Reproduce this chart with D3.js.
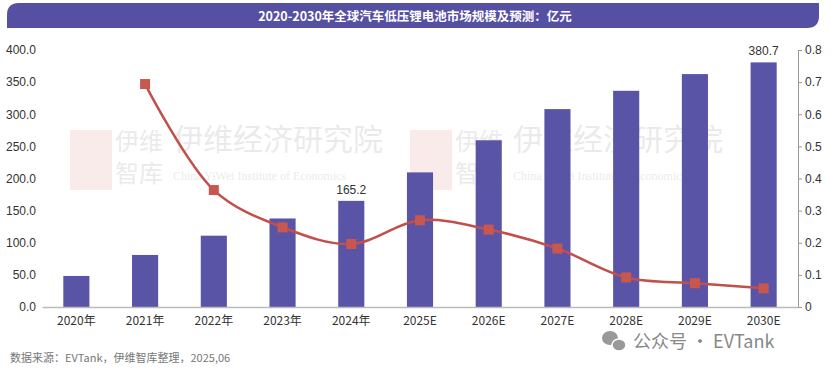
<!DOCTYPE html>
<html>
<head>
<meta charset="utf-8">
<script src="https://cdn.jsdelivr.net/npm/d3@7"></script>
<style>
  body { margin: 0; background: #fff; }
  svg { display: block; font-family: "Liberation Sans", Arial, sans-serif; }
</style>
</head>
<body>
<svg id="chart" width="830" height="373"></svg>
<script>
// chart data
const years = ["2020年", "2021年", "2022年", "2023年", "2024年", "2025E", "2026E", "2027E", "2028E", "2029E", "2030E"];
const market = [48.3, 81.0, 111.0, 137.8, 165.2, 209.5, 259.5, 308.0, 336.5, 362.5, 380.7];
const growth = [null, 0.694, 0.364, 0.248, 0.196, 0.270, 0.241, 0.182, 0.092, 0.074, 0.058];
const leftTicks = [0, 50, 100, 150, 200, 250, 300, 350, 400];
const rightTicks = [0, 0.1, 0.2, 0.3, 0.4, 0.5, 0.6, 0.7, 0.8];
const labelled = ["2024年", "2030E"];

const svg = d3.select("#chart");
const margin = { left: 42, right: 32, top: 50, bottom: 66 };
const W = 830, H = 373;

// title bar
const tb = { x: 7, y: 3, w: 812, h: 25, r: 12 };
svg.append("path")
  .attr("d", `M${tb.x},${tb.y + tb.r} Q${tb.x},${tb.y} ${tb.x + tb.r},${tb.y} L${tb.x + tb.w},${tb.y} L${tb.x + tb.w},${tb.y + tb.h - tb.r} Q${tb.x + tb.w},${tb.y + tb.h} ${tb.x + tb.w - tb.r},${tb.y + tb.h} L${tb.x},${tb.y + tb.h} Z`)
  .attr("fill", "#5550a2");
svg.append("text")
  .attr("x", 415).attr("y", 20.5)
  .attr("text-anchor", "middle")
  .attr("fill", "#fff")
  .attr("font-size", 12.5)
  .attr("font-weight", "bold")
  .attr("font-family", "'Noto Sans CJK SC', sans-serif")
  .text("2020-2030年全球汽车低压锂电池市场规模及预测：亿元");

const x = d3.scaleBand()
  .domain(years)
  .range([margin.left, W - margin.right])
  .paddingInner(0.62)
  .paddingOuter(0.31);

const y = d3.scaleLinear().domain([0, 400]).range([H - margin.bottom, margin.top]);
const y2 = d3.scaleLinear().domain([0, 0.8]).range([H - margin.bottom, margin.top]);

// faint watermark
const wm = svg.append("g").attr("opacity", 0.13).attr("font-family", "'Noto Sans CJK SC', serif");
[[115, 150], [455, 150]].forEach(([wx, wy]) => {
  wm.append("rect").attr("x", wx - 45).attr("y", wy - 20).attr("width", 42).attr("height", 60).attr("fill", "#e06a6a");
  wm.append("text").attr("x", wx).attr("y", wy).attr("font-size", 24).attr("fill", "#666").text("伊维");
  wm.append("text").attr("x", wx).attr("y", wy + 32).attr("font-size", 24).attr("fill", "#666").text("智库");
  wm.append("text").attr("x", wx + 58).attr("y", wy).attr("font-size", 30).attr("fill", "#666").text("伊维经济研究院");
  wm.append("text").attr("x", wx + 58).attr("y", wy + 30).attr("font-size", 12).attr("fill", "#666")
    .attr("font-family", "'Liberation Serif', serif").text("China YiWei Institute of Economics");
});

// bars
svg.append("g")
  .selectAll("rect")
  .data(market)
  .join("rect")
  .attr("x", (d, i) => x(years[i]))
  .attr("y", d => y(d))
  .attr("width", x.bandwidth())
  .attr("height", d => y(0) - y(d))
  .attr("fill", "#5a54a6");

// value labels
svg.append("g")
  .selectAll("text")
  .data(years.filter(c => labelled.includes(c)))
  .join("text")
  .attr("x", c => x(c) + x.bandwidth() / 2)
  .attr("y", c => y(market[years.indexOf(c)]) - 7)
  .attr("text-anchor", "middle")
  .attr("font-size", 12)
  .attr("fill", "#333")
  .text(c => market[years.indexOf(c)].toFixed(1));

// left axis
const gl = svg.append("g")
  .attr("transform", `translate(${margin.left},0)`)
  .call(d3.axisLeft(y).tickValues(leftTicks).tickSize(0).tickPadding(6).tickFormat(d3.format(".1f")));
gl.select(".domain").remove();
gl.selectAll("text").attr("font-size", 12).attr("fill", "#333").attr("font-family", "'Liberation Sans', Arial, sans-serif");

// right axis
const gr = svg.append("g")
  .attr("transform", `translate(${W - margin.right},0)`)
  .call(d3.axisRight(y2).tickValues(rightTicks).tickSize(4).tickPadding(3).tickFormat(d => d === 0 ? "0" : d3.format(".1f")(d)));
gr.select(".domain").attr("stroke", "#999");
gr.selectAll("line").attr("stroke", "#999");
gr.selectAll("text").attr("font-size", 12).attr("fill", "#333").attr("font-family", "'Liberation Sans', Arial, sans-serif");

// bottom axis
const gb = svg.append("g")
  .attr("transform", `translate(0,${H - margin.bottom})`)
  .call(d3.axisBottom(x).tickSize(0).tickPadding(9));
gb.select(".domain").attr("stroke", "#bbb").attr("stroke-width", 1.5);
gb.selectAll("text").attr("font-size", 12).attr("fill", "#333").attr("font-family", "'Noto Sans CJK SC', sans-serif");

// growth line
const pts = years.map((c, i) => ({ c, v: growth[i] })).filter(d => d.v !== null);
const line = d3.line()
  .x(d => x(d.c) + x.bandwidth() / 2)
  .y(d => y2(d.v))
  .curve(d3.curveCatmullRom.alpha(0.5));
svg.append("path")
  .datum(pts)
  .attr("d", line)
  .attr("fill", "none")
  .attr("stroke", "#c24f49")
  .attr("stroke-width", 2.5);
svg.append("g")
  .selectAll("rect")
  .data(pts)
  .join("rect")
  .attr("x", d => x(d.c) + x.bandwidth() / 2 - 5)
  .attr("y", d => y2(d.v) - 5)
  .attr("width", 10)
  .attr("height", 10)
  .attr("fill", "#c8584f");

// footer
svg.append("text")
  .attr("x", 10).attr("y", 362)
  .attr("font-size", 11)
  .attr("fill", "#777")
  .attr("font-family", "'Noto Sans CJK SC', sans-serif")
  .text("数据来源：EVTank，伊维智库整理，2025,06");

// wechat tag
const wc = svg.append("g").attr("fill", "#999");
wc.append("ellipse").attr("cx", 610).attr("cy", 338).attr("rx", 8).attr("ry", 7);
wc.append("ellipse").attr("cx", 619).attr("cy", 345).attr("rx", 7).attr("ry", 6).attr("stroke", "#fff").attr("stroke-width", 1.5);
svg.append("text")
  .attr("x", 633).attr("y", 348)
  .attr("font-size", 18)
  .attr("fill", "#888")
  .attr("font-family", "'Noto Sans CJK SC', sans-serif")
  .text("公众号 · EVTank");
</script>
</body>
</html>
